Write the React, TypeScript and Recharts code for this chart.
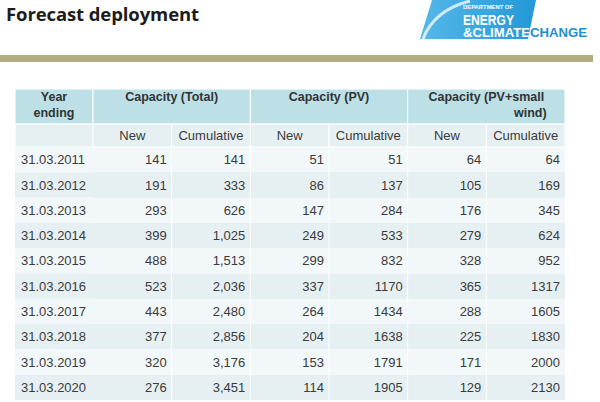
import React from 'react';
import { ScatterChart, Scatter, XAxis, YAxis, CartesianGrid } from 'recharts';

// Table rows (year ending) and the six value columns
const years = [
  '31.03.2011', '31.03.2012', '31.03.2013', '31.03.2014', '31.03.2015',
  '31.03.2016', '31.03.2017', '31.03.2018', '31.03.2019', '31.03.2020',
];
const totalNew = [141, 191, 293, 399, 488, 523, 443, 377, 320, 276];
const totalCumulative = [141, 333, 626, 1025, 1513, 2036, 2480, 2856, 3176, 3451];
const pvNew = [51, 86, 147, 249, 299, 337, 264, 204, 153, 114];
const pvCumulative = [51, 137, 284, 533, 832, 1170, 1434, 1638, 1791, 1905];
const windNew = [64, 105, 176, 279, 328, 365, 288, 225, 171, 129];
const windCumulative = [64, 169, 345, 624, 952, 1317, 1605, 1830, 2000, 2130];

const columns = ['totalNew', 'totalCumulative', 'pvNew', 'pvCumulative', 'windNew', 'windCumulative'];
const columnLabels = ['New', 'Cumulative', 'New', 'Cumulative', 'New', 'Cumulative'];
const columnValues = [totalNew, totalCumulative, pvNew, pvCumulative, windNew, windCumulative];
const groupLabels = [['Capacity (Total)'], ['Capacity (PV)'], ['Capacity (PV+small', 'wind)']];
const yearHeader = ['Year', 'ending'];

// layout
const W = 600;
const H = 402;
const TABLE_LEFT = 15;
const TABLE_RIGHT = 565;
const HEADER_TOP = 89;
const SUB_TOP = 124;
const BODY_TOP = 147;
const BOTTOM = 2;
const YEAR_W = 78;
const COL_W = (TABLE_RIGHT - TABLE_LEFT - YEAR_W) / columns.length;
const ROW_H = (H - BODY_TOP - BOTTOM) / years.length;

const HEADER_FILL = '#bde0e6';
const DARK_ROW = '#e6f0f3';
const LIGHT_ROW = '#f2f7f9';
const TEXT = '#3a3a3a';
const FONT = '"Liberation Sans", Arial, sans-serif';
const NARROW = '"Liberation Sans Narrow", "Liberation Sans", sans-serif';

const fmt = (ci: number, v: number) => (ci === 1 ? v.toLocaleString('en-US') : String(v));

const bandStarts = (axis: any, values: string[]) => {
  const s = axis?.scale;
  if (!s) return [];
  const f = typeof s === 'function' ? s : s.map?.bind(s);
  if (!f) return [];
  return values.map((v) => f(v)).filter((n: any) => typeof n === 'number' && !isNaN(n));
};

const HeaderTick = (props: any) => {
  const { x, payload } = props;
  const i = payload?.index ?? props.index ?? 0;
  const left = x - COL_W / 2;
  const group = groupLabels[Math.floor(i / 2)];
  return (
    <g>
      {i === 0 && (
        <g>
          <rect x={TABLE_LEFT} y={HEADER_TOP} width={YEAR_W} height={SUB_TOP - HEADER_TOP} fill={HEADER_FILL} stroke="#fff" />
          <rect x={TABLE_LEFT} y={SUB_TOP} width={YEAR_W} height={BODY_TOP - SUB_TOP} fill={DARK_ROW} stroke="#fff" />
          {yearHeader.map((t, k) => (
            <text key={t} x={TABLE_LEFT + YEAR_W / 2} y={HEADER_TOP + 12 + k * 16} textAnchor="middle"
              fontFamily={FONT} fontSize={12.5} fontWeight="bold" fill="#333">{t}</text>
          ))}
        </g>
      )}
      {i % 2 === 0 && (
        <g>
          <rect x={left} y={HEADER_TOP} width={COL_W * 2} height={SUB_TOP - HEADER_TOP} fill={HEADER_FILL} stroke="#fff" />
          {group.map((t, k) => (
            <text key={t} x={x + COL_W / 2 + (k === 1 ? 44 : 0)} y={HEADER_TOP + 12 + k * 16} textAnchor="middle"
              fontFamily={FONT} fontSize={12.5} fontWeight="bold" fill="#333">{t}</text>
          ))}
        </g>
      )}
      <rect x={left} y={SUB_TOP} width={COL_W} height={BODY_TOP - SUB_TOP} fill={DARK_ROW} stroke="#fff" />
      <text x={x} y={SUB_TOP + 11} dy="0.35em" textAnchor="middle" fontFamily={FONT} fontSize={13} fill={TEXT}>
        {columnLabels[i]}
      </text>
    </g>
  );
};

const YearTick = (props: any) => {
  const { y, payload } = props;
  const i = payload?.index ?? props.index ?? 0;
  return (
    <g>
      <rect x={TABLE_LEFT} y={y - ROW_H / 2} width={YEAR_W} height={ROW_H} fill={i % 2 === 0 ? LIGHT_ROW : DARK_ROW} />
      <text x={TABLE_LEFT + 6} y={y} dy="0.35em" textAnchor="start" fontFamily={FONT} fontSize={13} fill={TEXT}>
        {payload.value}
      </text>
    </g>
  );
};

const makeCell = (ci: number) => (props: any) => {
  const { cx, cy, payload } = props;
  if (cx == null || cy == null) return <g />;
  return (
    <text x={cx + COL_W / 2 - 5} y={cy} dy="0.35em" textAnchor="end" fontFamily={FONT} fontSize={13} fill={TEXT}>
      {fmt(ci, payload.value)}
    </text>
  );
};

const Logo = () => (
  <svg width={W} height={50} style={{ position: 'absolute', left: 0, top: 0 }}>
    <defs>
      <linearGradient id="blue" x1="0" x2="1" y1="0" y2="0">
        <stop offset="0" stopColor="#55b8e8" />
        <stop offset="1" stopColor="#2398d8" />
      </linearGradient>
    </defs>
    <polygon points="432,0 536,0 528,39 420,39" fill="url(#blue)" />
    <path d="M423,39 Q434,10 470,1" fill="none" stroke="#ffffff" strokeOpacity={0.75} strokeWidth={3} />
    <text x={463} y={8.5} fontFamily={NARROW} fontSize={5} fontWeight="bold" fill="#fff" textLength={50} lengthAdjust="spacingAndGlyphs">DEPARTMENT OF</text>
    <text x={463} y={24.5} fontFamily={NARROW} fontSize={14} fontWeight="bold" fill="#fff" textLength={51} lengthAdjust="spacingAndGlyphs">ENERGY</text>
    <text x={463} y={37} fontFamily={NARROW} fontSize={12} fontWeight="bold" fill="#fff" textLength={67} lengthAdjust="spacingAndGlyphs">&amp;CLIMATE</text>
    <text x={530} y={37} fontFamily={NARROW} fontSize={12} fontWeight="bold" fill="#1b8fd1" textLength={57} lengthAdjust="spacingAndGlyphs">CHANGE</text>
  </svg>
);

export default function App() {
  return (
    <div style={{ position: 'absolute', left: 0, top: 0, width: W, height: H, background: '#fff', overflow: 'hidden' }}>
      <div style={{ position: 'absolute', left: 6, top: 0, fontFamily: '"Open Sans", sans-serif', fontWeight: 700, fontSize: 18.5, lineHeight: '28px', color: '#1c1c1c', letterSpacing: -0.1 }}>
        Forecast deployment
      </div>
      <Logo />
      <div style={{ position: 'absolute', left: 0, top: 55, width: 593, height: 7, background: '#b3ac83' }} />
      <div style={{ position: 'absolute', left: 0, top: 0 }}>
        <ScatterChart width={W} height={H} margin={{ top: HEADER_TOP, right: W - TABLE_RIGHT, bottom: BOTTOM, left: TABLE_LEFT }}>
          <CartesianGrid
            vertical={false}
            stroke="none"
            horizontalFill={[LIGHT_ROW, DARK_ROW]}
            horizontalCoordinatesGenerator={({ yAxis }: any) => bandStarts(yAxis, years)}
          />
          <CartesianGrid
            horizontal={false}
            stroke="#ffffff"
            verticalCoordinatesGenerator={({ xAxis }: any) => bandStarts(xAxis, columns).slice(1)}
          />
          <XAxis
            dataKey="col"
            type="category"
            orientation="top"
            allowDuplicatedCategory={false}
            height={BODY_TOP - HEADER_TOP}
            axisLine={false}
            tickLine={false}
            interval={0}
            tick={HeaderTick}
          />
          <YAxis
            dataKey="year"
            type="category"
            reversed
            allowDuplicatedCategory={false}
            width={YEAR_W}
            axisLine={false}
            tickLine={false}
            interval={0}
            tick={YearTick}
          />
          {columns.map((key, ci) => (
            <Scatter
              key={key}
              data={years.map((year, ri) => ({ col: key, year, value: columnValues[ci][ri] }))}
              shape={makeCell(ci)}
              isAnimationActive={false}
            />
          ))}
        </ScatterChart>
      </div>
    </div>
  );
}
